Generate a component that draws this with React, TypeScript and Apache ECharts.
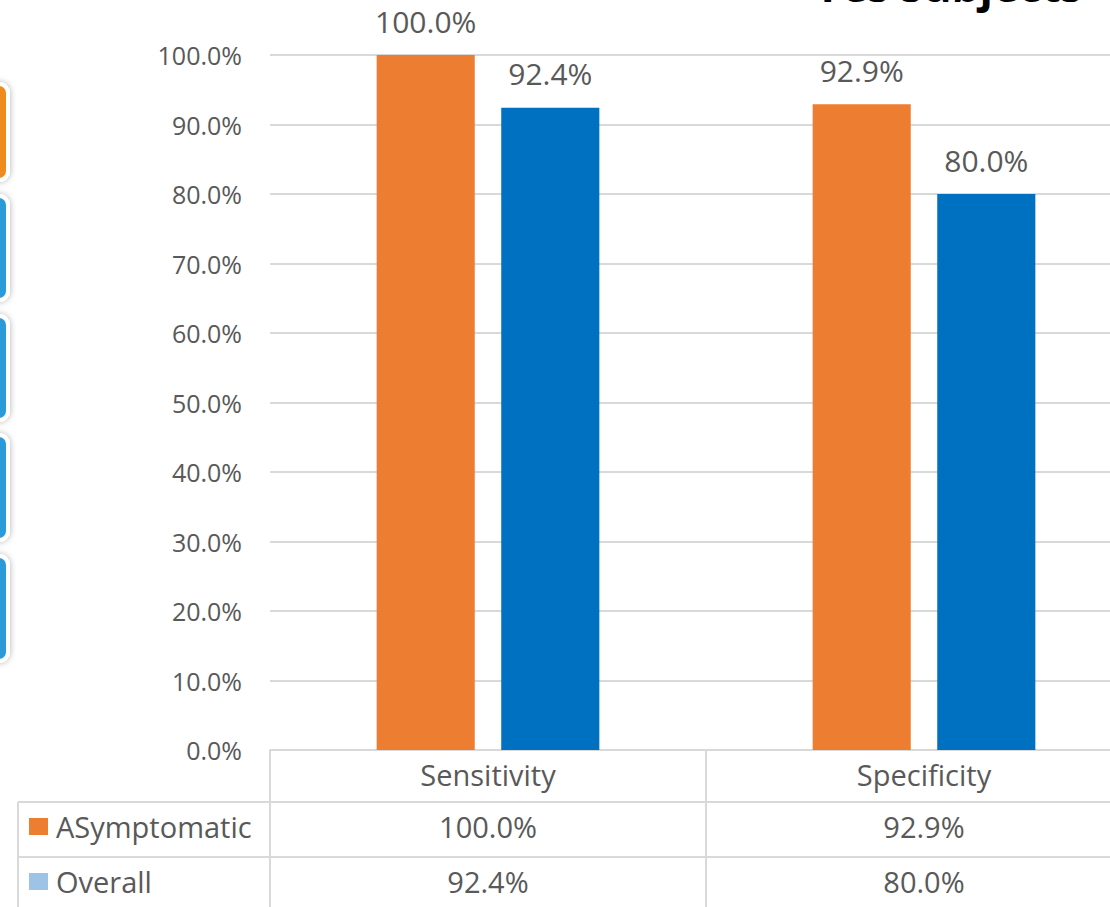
import React, { useEffect, useRef } from "react";
import * as echarts from "echarts";

const categories = ["Sensitivity", "Specificity"];
const asymptomatic = [100.0, 92.9];
const overall = [92.4, 80.0];
const seriesNames = ["ASymptomatic", "Overall"];
const yTicks = [0, 10, 20, 30, 40, 50, 60, 70, 80, 90, 100];
const titleText = "Yes subjects";

const fmt = (v: number) => v.toFixed(1) + "%";
const FONT = "'Open Sans', 'Noto Sans', sans-serif";
const GRAY = "#595959";
const LINE = "#d9d9d9";

export default function App() {
  const ref = useRef<HTMLDivElement>(null);
  useEffect(() => {
    if (!ref.current) return;
    const chart = echarts.init(ref.current, null, { renderer: "svg" });
    const sideBoxes = [
      { y: 84, h: 96, c: "#EE8B1E" },
      { y: 196, h: 104, c: "#2B9BD8" },
      { y: 316, h: 104, c: "#2B9BD8" },
      { y: 435, h: 105, c: "#2B9BD8" },
      { y: 556, h: 105, c: "#2B9BD8" },
    ];
    const tableLabel = {
      fontSize: 29,
      color: GRAY,
      margin: 10,
      fontFamily: FONT,
    };
    chart.setOption({
      animation: false,
      backgroundColor: "#ffffff",
      textStyle: { fontFamily: FONT },
      grid: { left: 270, top: 55, width: 872, height: 695, containLabel: false },
      legend: {
        orient: "vertical",
        left: 29,
        top: 812,
        padding: 0,
        itemWidth: 19,
        itemHeight: 17,
        itemGap: 26,
        selectedMode: false,
        icon: "rect",
        textStyle: {
          fontSize: 29,
          color: GRAY,
          fontFamily: FONT,
          lineHeight: 29,
          padding: [0, 0, 0, 3],
        },
        data: [
          { name: seriesNames[0], itemStyle: { color: "#ED7D31" } },
          { name: seriesNames[1], itemStyle: { color: "#9DC3E6" } },
        ],
      },
      xAxis: [
        {
          type: "category",
          data: categories,
          position: "bottom",
          axisLine: { show: true, lineStyle: { color: LINE, width: 2 } },
          axisTick: { show: true, length: 160, lineStyle: { color: LINE, width: 2 } },
          axisLabel: { ...tableLabel },
        },
        {
          type: "category",
          data: categories,
          position: "bottom",
          offset: 52,
          axisLine: { show: false },
          axisTick: { show: false },
          axisLabel: {
            ...tableLabel,
            formatter: (_v: string, i: number) => fmt(asymptomatic[i]),
          },
        },
        {
          type: "category",
          data: categories,
          position: "bottom",
          offset: 107,
          axisLine: { show: false },
          axisTick: { show: false },
          axisLabel: {
            ...tableLabel,
            formatter: (_v: string, i: number) => fmt(overall[i]),
          },
        },
      ],
      yAxis: {
        type: "value",
        min: yTicks[0],
        max: yTicks[yTicks.length - 1],
        interval: 10,
        axisLine: { show: false },
        axisTick: { show: false },
        splitLine: { lineStyle: { color: LINE, width: 2 } },
        axisLabel: {
          fontSize: 25,
          color: GRAY,
          margin: 28,
          fontFamily: FONT,
          formatter: (v: number) => fmt(v),
        },
      },
      series: [
        {
          name: seriesNames[0],
          type: "bar",
          data: asymptomatic,
          barWidth: "22.5%",
          barGap: "27%",
          itemStyle: { color: "#ED7D31" },
          label: {
            show: true,
            position: "top",
            distance: 19,
            fontSize: 30,
            color: GRAY,
            fontFamily: FONT,
            formatter: (p: any) => fmt(p.value),
          },
        },
        {
          name: seriesNames[1],
          type: "bar",
          data: overall,
          barWidth: "22.5%",
          itemStyle: { color: "#0070C0" },
          label: {
            show: true,
            position: "top",
            distance: 19,
            fontSize: 30,
            color: GRAY,
            fontFamily: FONT,
            formatter: (p: any) => fmt(p.value),
          },
        },
      ],
      graphic: [
        ...sideBoxes.map((b) => ({
          type: "rect",
          shape: { x: -24, y: b.y, width: 32, height: b.h, r: 9 },
          style: {
            fill: b.c,
            stroke: "#ffffff",
            lineWidth: 4,
            shadowBlur: 6,
            shadowColor: "rgba(0,0,0,0.3)",
          },
          z: 10,
        })),
        { type: "line", shape: { x1: 18, y1: 802, x2: 1142, y2: 802 }, style: { stroke: LINE, lineWidth: 2 } },
        { type: "line", shape: { x1: 18, y1: 857, x2: 1142, y2: 857 }, style: { stroke: LINE, lineWidth: 2 } },
        { type: "line", shape: { x1: 18, y1: 802, x2: 18, y2: 910 }, style: { stroke: LINE, lineWidth: 2 } },
        {
          type: "text",
          x: 814,
          y: 7,
          style: {
            text: titleText,
            font: "bold 44px 'Open Sans', sans-serif",
            fill: "#000000",
            textVerticalAlign: "bottom",
            verticalAlign: "bottom",
          },
        },
      ],
    });
    return () => chart.dispose();
  }, []);
  return (
    <div
      style={{
        position: "fixed",
        left: 0,
        top: 0,
        width: 1110,
        height: 907,
        overflow: "hidden",
        background: "#ffffff",
      }}
    >
      <div ref={ref} style={{ width: 1150, height: 907 }} />
    </div>
  );
}
